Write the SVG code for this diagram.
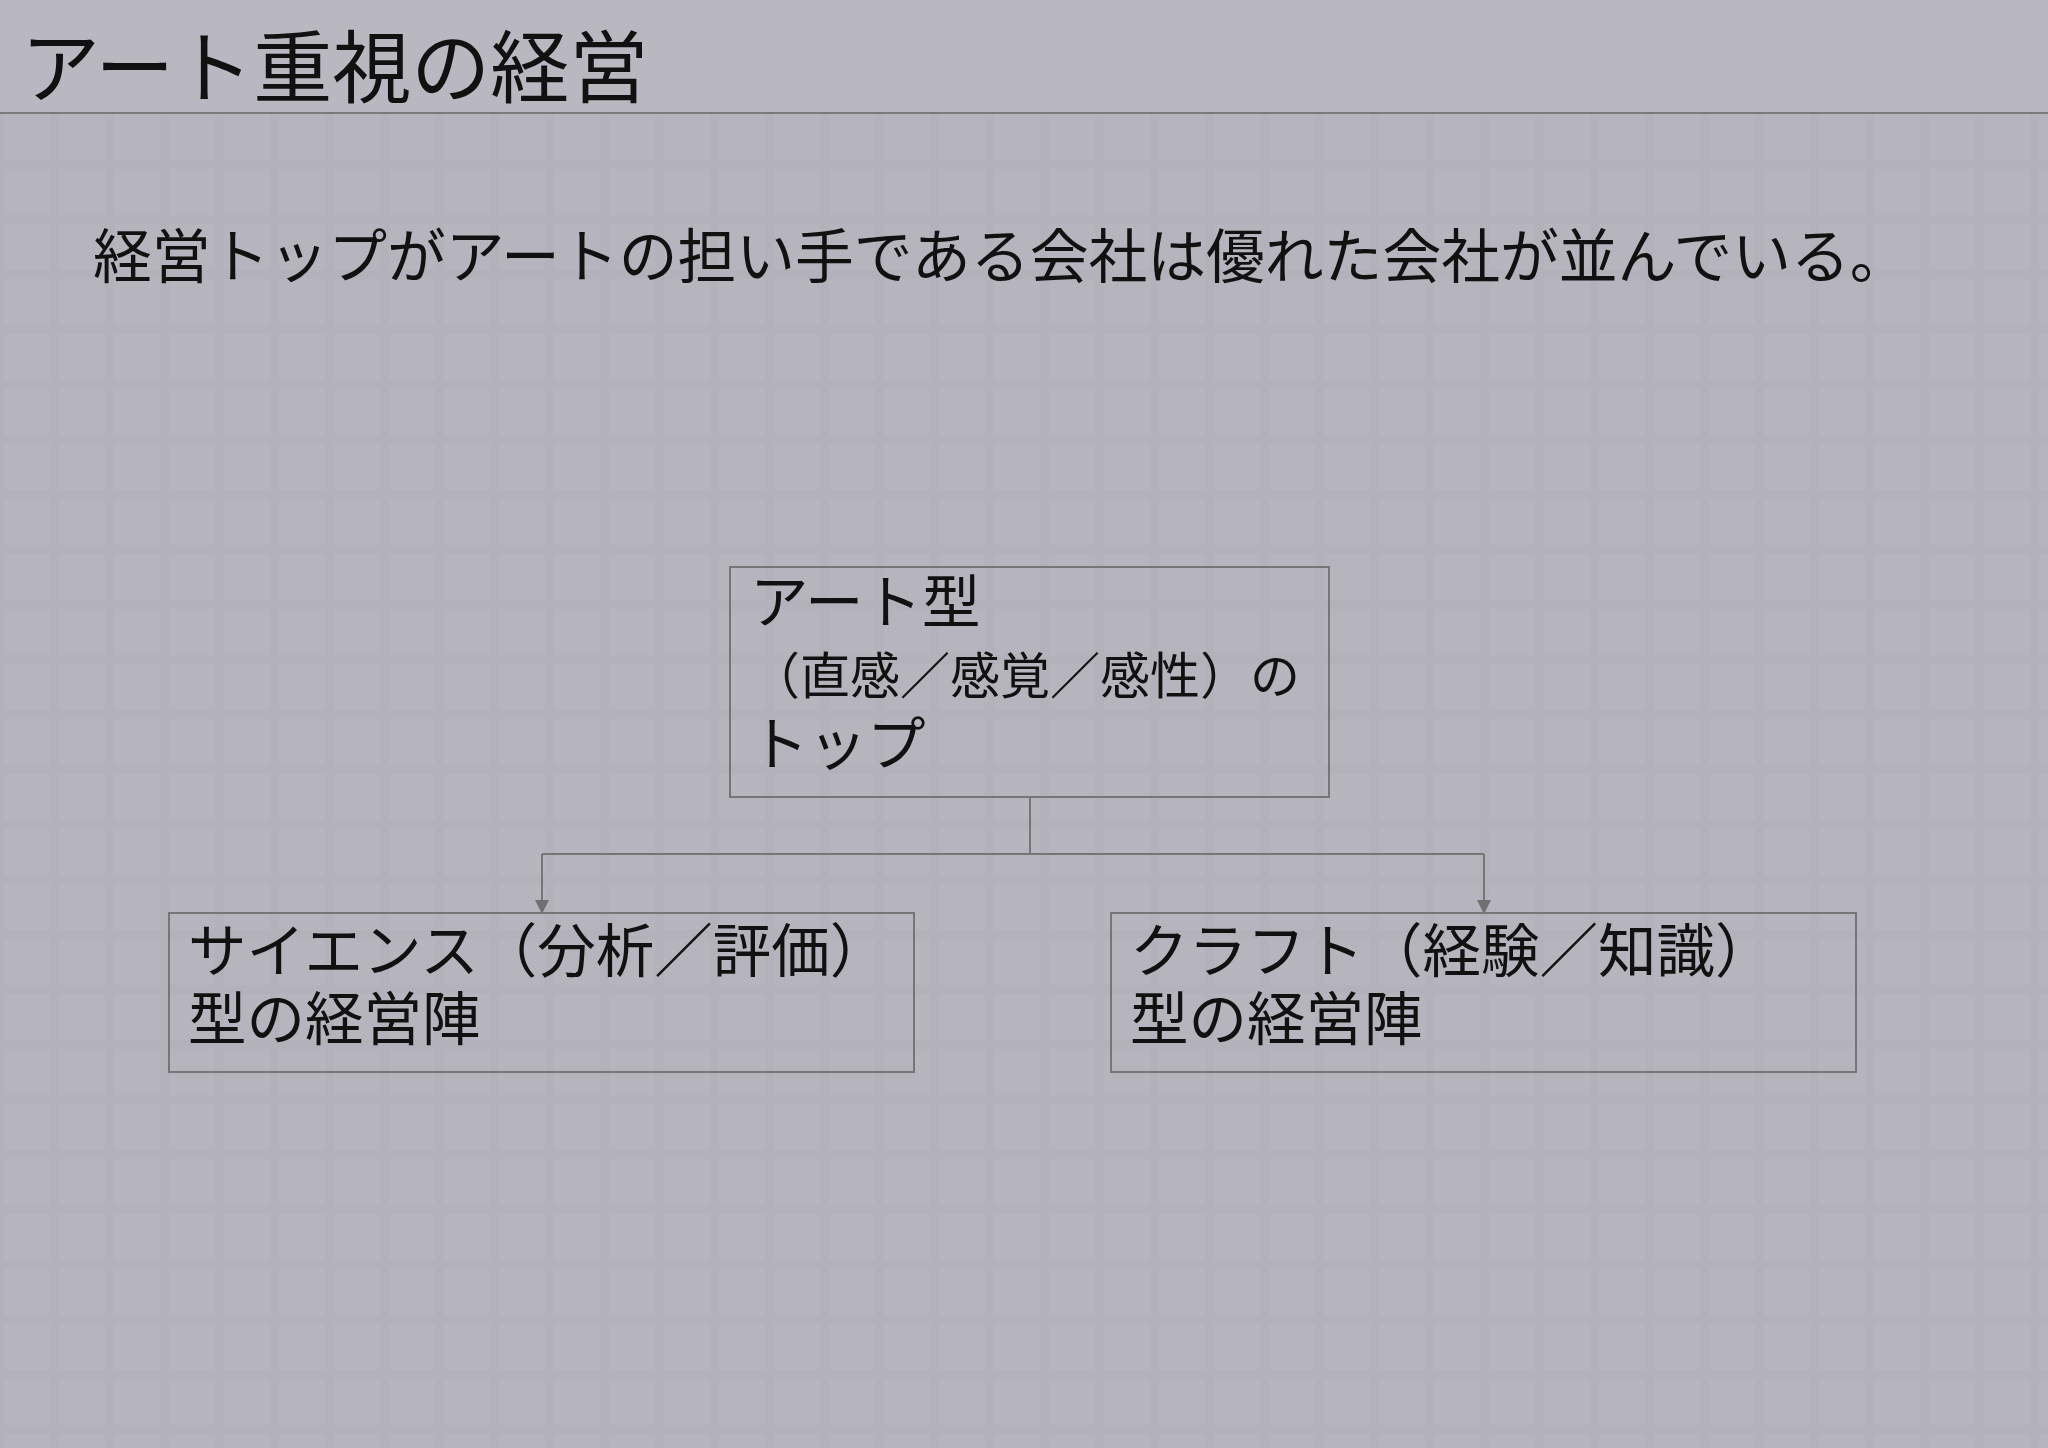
<svg xmlns="http://www.w3.org/2000/svg" width="2048" height="1448" viewBox="0 0 2048 1448">
<defs>
<pattern id="tiles" x="0" y="0" width="55" height="55" patternUnits="userSpaceOnUse">
<rect x="0" y="0" width="55" height="55" fill="#b2b1bb"/>
<rect x="4" y="4" width="46" height="46" fill="#b7b6bf"/>
</pattern>
<marker id="arrow" markerWidth="14" markerHeight="14" refX="13" refY="7" orient="auto" markerUnits="userSpaceOnUse">
<path d="M0,0 L14,7 L0,14 Z" fill="#707070"/>
</marker>
<style>
text { font-family: "Noto Sans CJK JP", "Noto Sans", sans-serif; fill: #111111; }
.box { fill: none; stroke: #767676; stroke-width: 2; }
.conn { fill: none; stroke: #767676; stroke-width: 2; }
</style>
</defs>
<rect x="0" y="0" width="2048" height="1448" fill="#b4b3bc"/>
<rect x="0" y="114" width="2048" height="1334" fill="url(#tiles)" opacity="0.7"/>
<rect x="0" y="0" width="2048" height="113" fill="#b9b8c0"/>
<g id="title">
<text x="21" y="97" font-size="79">アート重視の経営</text>
<line x1="0" y1="113" x2="2048" y2="113" stroke="#7a7a7a" stroke-width="2"/>
</g>
<g id="subtitle">
<text x="93" y="278" font-size="58.8">経営トップがアートの担い手である会社は優れた会社が並んでいる。</text>
</g>
<g id="connectors">
<path class="conn" d="M1030,797 L1030,854"/>
<path class="conn" d="M542,854 L1484,854"/>
<path class="conn" d="M542,854 L542,913" marker-end="url(#arrow)"/>
<path class="conn" d="M1484,854 L1484,913" marker-end="url(#arrow)"/>
</g>
<g id="node-art">
<rect class="box" x="730" y="567" width="599" height="230"/>
<text x="750" y="623" font-size="58.5"><tspan x="750" y="623">アート型</tspan><tspan x="750" y="694" font-size="50">（直感／感覚／感性）の</tspan><tspan x="750" y="765">トップ</tspan></text>
</g>
<g id="node-science">
<rect class="box" x="169" y="913" width="745" height="159"/>
<text x="188" y="972" font-size="58.5"><tspan x="188" y="972">サイエンス（分析／評価）</tspan><tspan x="188" y="1040">型の経営陣</tspan></text>
</g>
<g id="node-craft">
<rect class="box" x="1111" y="913" width="745" height="159"/>
<text x="1130" y="972" font-size="58.5"><tspan x="1130" y="972">クラフト（経験／知識）</tspan><tspan x="1130" y="1040">型の経営陣</tspan></text>
</g>
</svg>
